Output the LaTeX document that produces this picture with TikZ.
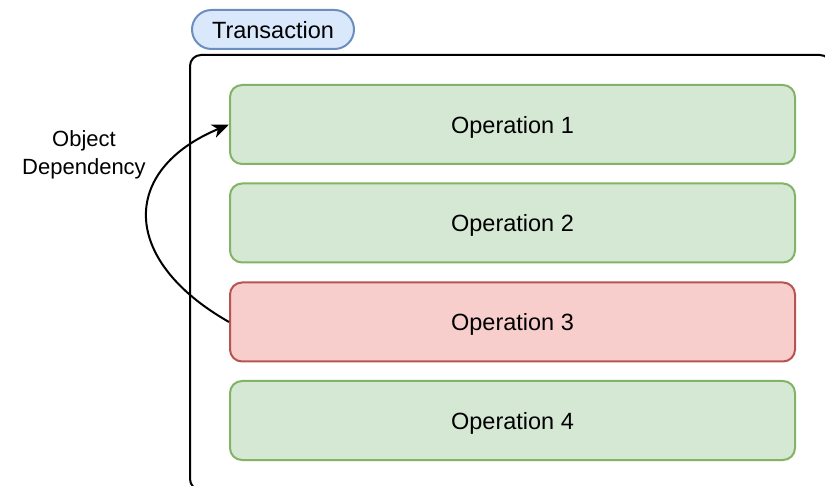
\documentclass[tikz,border=0pt]{standalone}
\usepackage{fontspec}
\setmainfont{Liberation Sans}
\usetikzlibrary{arrows.meta}
\definecolor{gfill}{HTML}{D5E8D4}
\definecolor{gline}{HTML}{82B366}
\definecolor{rfill}{HTML}{F8CECC}
\definecolor{rline}{HTML}{B85450}
\definecolor{bfill}{HTML}{DAE8FC}
\definecolor{bline}{HTML}{6C8EBF}
\tikzset{
  opbox/.style={draw=gline, fill=gfill, line width=2pt, rounded corners=12pt,
    minimum width=565pt, minimum height=79pt, inner sep=0pt, text depth=0pt,
    font=\fontsize{23.5}{28}\selectfont},
  opred/.style={opbox, draw=rline, fill=rfill},
  pill/.style={draw=bline, fill=bfill, line width=2pt, rounded corners=19.5pt,
    minimum width=162pt, minimum height=39pt, inner sep=0pt, text depth=0pt,
    font=\fontsize{23.5}{28}\selectfont},
  lbl/.style={align=center, font=\fontsize{22}{28}\selectfont},
  conn/.style={line width=2pt, -{Stealth[length=17pt,width=14pt,inset=5pt]}}
}
\begin{document}
\begin{tikzpicture}[x=1pt,y=-1pt]
\useasboundingbox (0,0) rectangle (825,486);
\clip (0,0) rectangle (825,486);
\draw[line width=2pt, rounded corners=11pt] (190,55) rectangle (831,490);
\node[pill] (tx) at (273,29.5) {Transaction};
\node[opbox] (op1) at (512.5,124.5) {Operation 1};
\node[opbox] (op2) at (512.5,223) {Operation 2};
\node[opred] (op3) at (512.5,322) {Operation 3};
\node[opbox] (op4) at (512.5,420.5) {Operation 4};
\node[lbl] (dep) at (84,155) {Object\\Dependency};
\draw[conn] (op3.west) .. controls (120,260) and (120,170) .. (op1.west);
\end{tikzpicture}
\end{document}
